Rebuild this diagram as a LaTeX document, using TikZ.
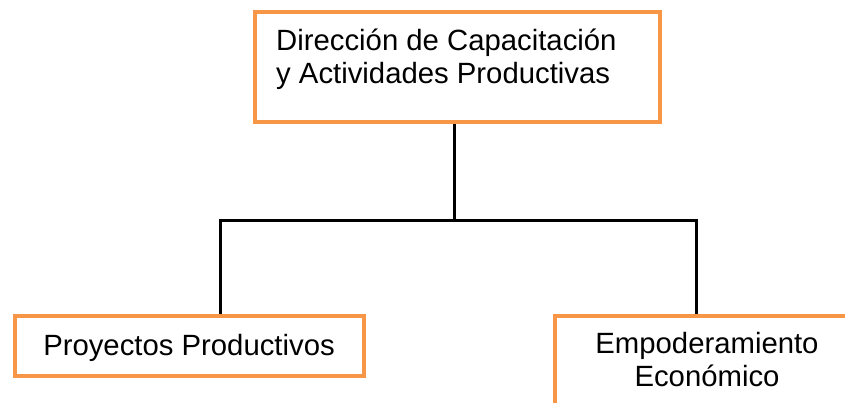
\documentclass[tikz,border=0pt]{standalone}
\usepackage{fontspec}
\setmainfont{Liberation Sans}
\definecolor{naranja}{RGB}{247,150,70}
\begin{document}
\begin{tikzpicture}[x=1pt,y=-1pt,
		caja/.style={draw=naranja,line width=4pt,inner sep=0pt,rectangle},
		texto/.style={font=\fontsize{29.3}{33}\selectfont,inner sep=0pt},
		linea/.style={line width=3pt,black}]
	\useasboundingbox (0,0) rectangle (845,403);
	\clip (0,0) rectangle (845,403);
	% cajas
	\node[caja,minimum width=405pt,minimum height=110pt] (dir) at (457.5,67) {};
	\node[caja,minimum width=349pt,minimum height=60pt] (proy) at (189.5,346) {};
	\node[caja,minimum width=304pt,minimum height=130pt] (empo) at (707,381) {};
	% textos (base = ultima linea)
	\node[texto,anchor=base west,align=left] (dirtxt) at (276,84) {Direcci\'on de Capacitaci\'on\\y Actividades Productivas};
	\node[texto,anchor=base] (proytxt) at (189,355) {Proyectos Productivos};
	\node[texto,anchor=base,align=center] (empotxt) at (707,386) {Empoderamiento\\Econ\'omico};
	% conectores
	\coordinate (split) at (454,221);
	\coordinate (izq) at (220,221);
	\coordinate (der) at (696,221);
	\draw[linea] (split |- dir.south) -- (split);
	\draw[linea] (izq |- proy.north) -- (izq) -- (der) -- (der |- empo.north);
\end{tikzpicture}
\end{document}
